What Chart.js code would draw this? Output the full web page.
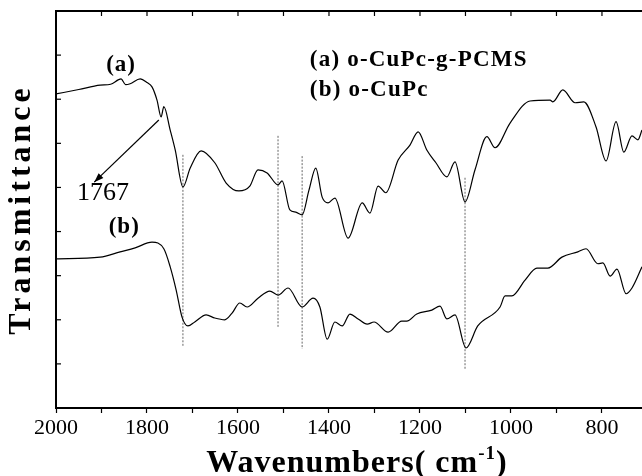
<!DOCTYPE html>
<html>
<head>
<meta charset="utf-8">
<script src="https://cdn.jsdelivr.net/npm/chart.js@4.4.1/dist/chart.umd.min.js"></script>
<style>
  body { margin: 0; background: #fff; }
  #wrap { width: 642px; height: 476px; }
</style>
</head>
<body>
<div id="wrap"><canvas id="ftir"></canvas></div>
<script>
// spectrum (a) o-CuPc-g-PCMS
const wavenumA = [2000, 1950, 1903, 1880, 1857, 1847, 1837, 1815, 1800, 1789, 1778, 1769, 1763, 1749, 1738, 1721, 1705, 1681,
  1651, 1626, 1598, 1574, 1556, 1536, 1512, 1503, 1486, 1473, 1459, 1444, 1429, 1415, 1402, 1387,
  1358, 1327, 1310, 1292, 1275, 1248, 1222, 1204, 1185, 1165, 1141, 1123, 1101, 1079, 1053, 1035,
  1002, 958, 914, 908, 886, 859, 840, 813, 791, 769, 752, 734, 721, 712];
const transA = [7.12, 7.22, 7.32, 7.34, 7.46, 7.33, 7.35, 7.46, 7.38, 7.28, 6.98, 6.60, 6.83, 6.30, 5.85, 5.01, 5.44, 5.83,
  5.56, 5.10, 4.92, 5.03, 5.40, 5.33, 5.06, 5.15, 4.49, 4.44, 4.38, 4.94, 5.44, 4.78, 4.65, 4.76,
  3.85, 4.65, 4.42, 5.03, 4.88, 5.62, 5.96, 6.26, 5.85, 5.56, 5.24, 5.58, 4.67, 5.40, 6.15, 5.90,
  6.46, 6.96, 6.98, 6.94, 7.21, 6.92, 6.94, 6.37, 5.60, 6.49, 5.80, 6.17, 6.08, 6.30];

// spectrum (b) o-CuPc
const wavenumB = [2000, 1903, 1859, 1826, 1789, 1763, 1749, 1736, 1723, 1710, 1695, 1670, 1651, 1629,
  1613, 1596, 1580, 1556, 1530, 1512, 1490, 1459, 1435, 1420, 1404, 1387, 1371, 1354, 1336, 1316,
  1301, 1270, 1240, 1229, 1207, 1174, 1156, 1141, 1123, 1099, 1073, 1024, 1013, 998, 969, 943,
  919, 888, 853, 835, 809, 798, 782, 767, 747, 734, 712];
const transB = [3.38, 3.42, 3.54, 3.63, 3.76, 3.61, 3.20, 2.68, 2.06, 1.86, 1.95, 2.11, 2.04, 2.00,
  2.15, 2.38, 2.29, 2.49, 2.65, 2.56, 2.72, 2.29, 2.49, 2.29, 1.56, 1.95, 1.86, 2.13, 2.02, 1.90,
  1.95, 1.72, 1.97, 1.97, 2.13, 2.22, 2.31, 2.02, 2.11, 1.36, 1.86, 2.29, 2.54, 2.54, 2.90, 3.17,
  3.17, 3.42, 3.54, 3.61, 3.27, 3.29, 2.99, 3.15, 2.59, 2.72, 3.20];

// dashed guide lines through the shared bands
const markerWavenums = [1721, 1512, 1459, 1101];
const markerTop = [5.74, 6.17, 5.71, 5.22];
const markerBottom = [1.38, 1.81, 1.34, 0.86];

const xLabelStep = 200;

const SERIF = "'Liberation Serif', 'Times New Roman', serif";

function toPoints(xs, ys) {
  return xs.map((x, i) => ({ x, y: ys[i] }));
}

const datasets = [
  { data: toPoints(wavenumA, transA), borderColor: '#000', borderWidth: 1.2, pointRadius: 0,
    cubicInterpolationMode: 'monotone' },
  { data: toPoints(wavenumB, transB), borderColor: '#000', borderWidth: 1.2, pointRadius: 0,
    cubicInterpolationMode: 'monotone' }
];
markerWavenums.forEach((w, i) => {
  datasets.push({
    data: [{ x: w, y: markerTop[i] }, { x: w, y: markerBottom[i] }],
    borderColor: '#666', borderWidth: 1, borderDash: [2, 1.5], pointRadius: 0
  });
});

function spacedText(ctx, text, x, y, spacing) {
  ctx.letterSpacing = spacing + 'px';
  ctx.fillText(text, x, y);
  ctx.letterSpacing = '0px';
}

const framePlugin = {
  id: 'frame',
  afterDraw(chart) {
    const { ctx, chartArea: { left, top, right, bottom }, scales: { x, y } } = chart;
    ctx.save();
    ctx.strokeStyle = '#000';
    ctx.fillStyle = '#000';

    // top border with inward ticks
    ctx.lineWidth = 2;
    ctx.beginPath();
    ctx.moveTo(left - 1, top);
    ctx.lineTo(right, top);
    ctx.stroke();
    ctx.lineWidth = 1.2;
    x.ticks.forEach(t => {
      const px = x.getPixelForValue(t.value);
      ctx.beginPath();
      ctx.moveTo(px, top);
      ctx.lineTo(px, top + 5);
      ctx.stroke();
    });
    // left inward ticks
    y.ticks.forEach(t => {
      const py = y.getPixelForValue(t.value);
      ctx.beginPath();
      ctx.moveTo(left, py);
      ctx.lineTo(left + 5, py);
      ctx.stroke();
    });

    // curve labels and legend
    ctx.textBaseline = 'middle';
    ctx.font = 'bold 23px ' + SERIF;
    ctx.textAlign = 'center';
    spacedText(ctx, '(a)', x.getPixelForValue(1857), y.getPixelForValue(7.78), 1);
    spacedText(ctx, '(b)', x.getPixelForValue(1850), y.getPixelForValue(4.10), 1);
    ctx.textAlign = 'left';
    spacedText(ctx, '(a) o-CuPc-g-PCMS', x.getPixelForValue(1442), y.getPixelForValue(7.89), 1.2);
    spacedText(ctx, '(b) o-CuPc', x.getPixelForValue(1442), y.getPixelForValue(7.21), 1.2);

    ctx.font = '26px ' + SERIF;
    ctx.fillText('1767', x.getPixelForValue(1954), y.getPixelForValue(4.88));

    // arrow to the 1767 shoulder
    const x0 = x.getPixelForValue(1774), y0 = y.getPixelForValue(6.53);
    const x1 = x.getPixelForValue(1916), y1 = y.getPixelForValue(5.12);
    ctx.lineWidth = 1.2;
    ctx.beginPath();
    ctx.moveTo(x0, y0);
    ctx.lineTo(x1, y1);
    ctx.stroke();
    const ang = Math.atan2(y1 - y0, x1 - x0);
    ctx.beginPath();
    ctx.moveTo(x1, y1);
    ctx.lineTo(x1 - 10 * Math.cos(ang - 0.35), y1 - 10 * Math.sin(ang - 0.35));
    ctx.lineTo(x1 - 10 * Math.cos(ang + 0.35), y1 - 10 * Math.sin(ang + 0.35));
    ctx.closePath();
    ctx.fill();

    // y title
    ctx.save();
    ctx.translate(22, (top + bottom) / 2);
    ctx.rotate(-Math.PI / 2);
    ctx.textAlign = 'center';
    ctx.font = 'bold 32px ' + SERIF;
    spacedText(ctx, 'Transmittance', 0, 0, 4);
    ctx.restore();

    // x title with superscript
    ctx.textAlign = 'left';
    ctx.textBaseline = 'alphabetic';
    const big = 'bold 32px ' + SERIF, small = 'bold 19px ' + SERIF;
    ctx.letterSpacing = '1px';
    ctx.font = big;
    const w1 = ctx.measureText('Wavenumbers( cm').width;
    const w3 = ctx.measureText(')').width;
    ctx.font = small;
    const w2 = ctx.measureText('-1').width;
    let tx = (left + right) / 2 + 8 - (w1 + w2 + w3) / 2;
    const base = 472;
    ctx.font = big;
    ctx.fillText('Wavenumbers( cm', tx, base);
    tx += w1;
    ctx.font = small;
    ctx.fillText('-1', tx, base - 13);
    tx += w2;
    ctx.font = big;
    ctx.fillText(')', tx, base);
    ctx.letterSpacing = '0px';
    ctx.restore();
  }
};

new Chart(document.getElementById('ftir'), {
  type: 'line',
  data: { datasets },
  plugins: [framePlugin],
  options: {
    responsive: true,
    maintainAspectRatio: false,
    animation: false,
    layout: { padding: { top: 11, right: 0, left: 0, bottom: 0 } },
    plugins: { legend: { display: false }, tooltip: { enabled: false } },
    scales: {
      x: {
        type: 'linear',
        reverse: true,
        min: 712,
        max: 2000,
        afterFit: s => { s.height = 68; },
        ticks: {
          stepSize: 100,
          includeBounds: false,
          autoSkip: false,
          maxRotation: 0,
          padding: 2,
          color: '#000',
          font: { family: SERIF, size: 22 },
          callback: v => (v % xLabelStep === 0 ? String(v) : '')
        },
        grid: { drawOnChartArea: false, drawTicks: true, tickLength: 5, color: '#000', tickWidth: 1.2 },
        border: { display: true, color: '#000', width: 2 }
      },
      y: {
        min: 0,
        max: 9,
        afterFit: s => { s.width = 56; },
        ticks: { stepSize: 1, display: false },
        grid: { drawOnChartArea: false, drawTicks: false },
        border: { display: true, color: '#000', width: 2 }
      }
    }
  }
});
</script>
</body>
</html>
